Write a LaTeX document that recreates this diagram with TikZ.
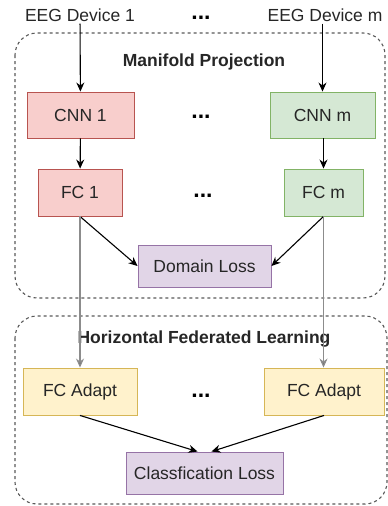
\documentclass[tikz,border=0pt]{standalone}
\usepackage{fontspec}
\setmainfont{Liberation Sans}
\usetikzlibrary{arrows.meta}

\definecolor{cnnred}{HTML}{F8CECC}
\definecolor{cnnredline}{HTML}{B85450}
\definecolor{cnngreen}{HTML}{D5E8D4}
\definecolor{cnngreenline}{HTML}{82B366}
\definecolor{lossviolet}{HTML}{E1D5E7}
\definecolor{lossvioletline}{HTML}{9673A6}
\definecolor{adaptyellow}{HTML}{FFF2CC}
\definecolor{adaptyellowline}{HTML}{D6B656}

\tikzset{
    txt/.style={inner sep=2pt, text=black!85, font=\fontsize{17.5}{21}\selectfont},
    title/.style={txt, font=\fontsize{17.5}{21}\selectfont\bfseries},
    dots/.style={inner sep=0pt, text=black, font=\fontsize{23}{21}\selectfont\bfseries},
    box/.style={txt, draw, line width=0.9pt, inner sep=0pt},
    redbox/.style={box, fill=cnnred, draw=cnnredline},
    greenbox/.style={box, fill=cnngreen, draw=cnngreenline},
    violetbox/.style={box, fill=lossviolet, draw=lossvioletline},
    yellowbox/.style={box, fill=adaptyellow, draw=adaptyellowline},
    group/.style={draw=black!65, line width=1.1pt, dash pattern=on 3pt off 3pt, rounded corners=22pt},
    link/.style={line width=1.1pt, -{Stealth[length=9pt,width=8pt]}},
    greylink/.style={link, draw=black!45, -{Stealth[length=9pt,width=8pt,fill=black!55]}}
}

\begin{document}
\begin{tikzpicture}[x=1pt, y=-1pt]
    \useasboundingbox (0,0) rectangle (388,506);

    \draw[group] (15,33) rectangle (385,298);
    \draw[group] (15,316) rectangle (387,504);

    \node[txt] (dev1) at (80,15) {EEG Device 1};
    \node[txt] (devm) at (325,15) {EEG Device m};
    \node[dots] at (201,18) {...};

    \node[title] (mp) at (204,62) {Manifold Projection};

    \node[redbox, minimum width=107pt, minimum height=46pt] (cnn1) at (80.5,115) {CNN 1};
    \node[greenbox, minimum width=105pt, minimum height=46pt] (cnnm) at (322.5,115) {CNN m};
    \node[dots] at (201,117) {...};

    \node[redbox, minimum width=84pt, minimum height=47pt] (fc1) at (80,192.5) {FC 1};
    \node[greenbox, minimum width=79pt, minimum height=47pt] (fcm) at (323.5,192.5) {FC m};
    \node[dots] at (203,196) {...};

    \node[violetbox, minimum width=133pt, minimum height=42pt] (dom) at (204.5,266) {Domain Loss};

    \node[title] (hfl) at (204,339) {Horizontal Federated Learning};

    \node[yellowbox, minimum width=114pt, minimum height=47pt] (fca1) at (80,391.5) {FC Adapt};
    \node[yellowbox, minimum width=120pt, minimum height=47pt] (fcam) at (324,391.5) {FC Adapt};
    \node[dots] at (201,396) {...};

    \node[violetbox, minimum width=157pt, minimum height=42pt] (cls) at (204.5,473) {Classfication Loss};

    \draw[link] (dev1) -- (cnn1);
    \draw[link] (devm.south -| cnnm) -- (cnnm);
    \draw[link] (cnn1) -- (fc1);
    \draw[link] (cnnm.south -| fcm) -- (fcm);
    \draw[link] (fc1.south) -- (dom.west);
    \draw[link] (fcm.south) -- (dom.east);
    \draw[greylink] (fc1.south) -- (fca1.north);
    \draw[greylink] (fcm.south) -- (fcam.north -| fcm.south);
    \draw[link] (fca1.south) -- (cls.108);
    \draw[link] (fcam.south) -- (cls.72);
\end{tikzpicture}
\end{document}
